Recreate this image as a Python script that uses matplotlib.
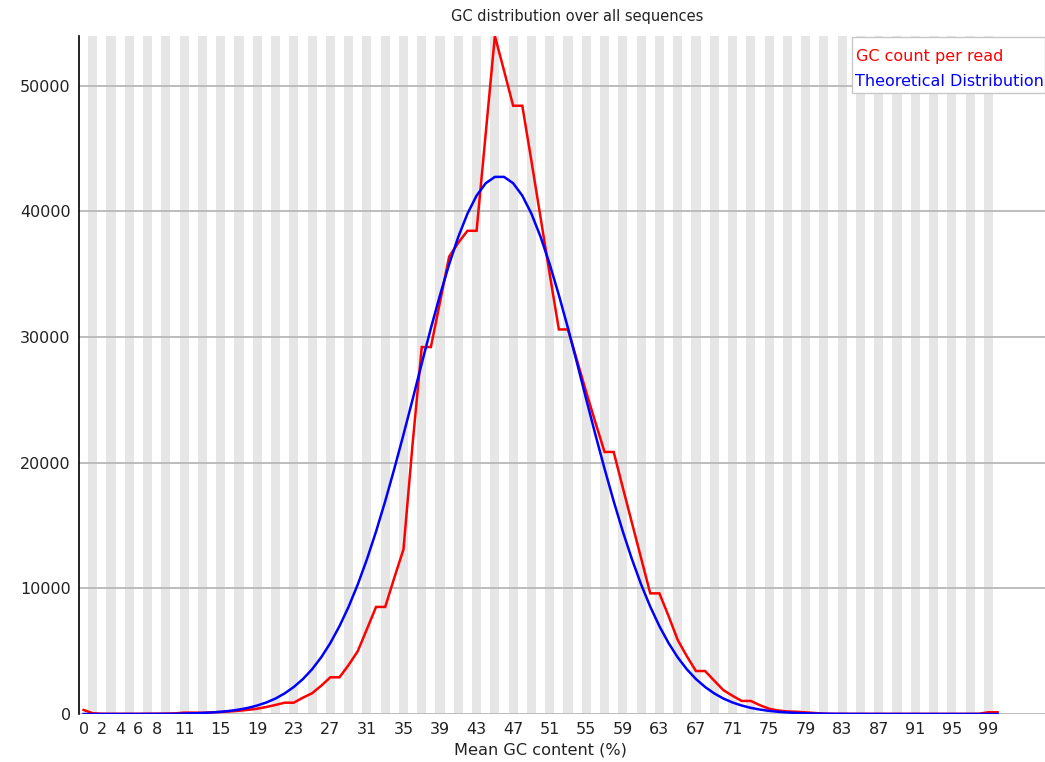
import matplotlib
matplotlib.use("Agg")
import matplotlib.pyplot as plt
from matplotlib.patches import Rectangle

gc_percent = list(range(101))

gc_count_per_read = [
    320, 60, 20, 15, 15, 15, 15, 20, 25, 30,
    50, 110, 110, 100, 130, 160, 200, 260, 330, 420,
    560, 720, 900, 900, 1300, 1650, 2250, 2920, 2920, 3900,
    5000, 6750, 8520, 8520, 10850, 13100, 21500, 29200, 29200, 32800,
    36400, 37500, 38450, 38450, 46200, 53950, 51200, 48400, 48400, 44000,
    39500, 35000, 30600, 30600, 28100, 25600, 23200, 20850, 20850, 18000,
    15200, 12400, 9600, 9600, 7800, 5900, 4600, 3420, 3420, 2650,
    1900, 1450, 1040, 1040, 700, 420, 280, 200, 180, 130,
    80, 20, 10, 10, 10, 10, 10, 10, 10, 10,
    10, 10, 10, 10, 10, 10, 10, 10, 20, 140,
    140,
]

theoretical = [
    0, 0, 0, 0, 0, 1, 2, 4, 6, 10,
    16, 37, 56, 83, 121, 175, 250, 352, 490, 675,
    917, 1230, 1640, 2150, 2780, 3560, 4510, 5650, 6990, 8540,
    10310, 12310, 14520, 16930, 19520, 22230, 25030, 27900, 30700, 33340,
    35790, 37970, 39810, 41250, 42234, 42740, 42740, 42234, 41250, 39810,
    37970, 35790, 33340, 30700, 27900, 25030, 22230, 19520, 16930, 14520,
    12310, 10310, 8540, 6990, 5650, 4510, 3560, 2780, 2150, 1640,
    1230, 917, 675, 490, 352, 250, 175, 121, 83, 56,
    37, 24, 16, 10, 6, 4, 2, 1, 0, 0,
    0, 0, 0, 0, 0, 0, 0, 0, 0, 0,
    0,
]

x_tick_labels = [0, 2, 4, 6, 8, 11, 15, 19, 23, 27, 31, 35, 39, 43, 47, 51,
                 55, 59, 63, 67, 71, 75, 79, 83, 87, 91, 95, 99]
y_ticks = [0, 10000, 20000, 30000, 40000, 50000]

plt.rcParams['font.family'] = ['DejaVu Sans']

W, H = 1045, 762
fig = plt.figure(figsize=(W / 100, H / 100), dpi=100)
left_px, right_px, top_px, bottom_px = 79, 1045, 36, 714
ax = fig.add_axes([left_px / W, 1 - bottom_px / H,
                   (right_px - left_px) / W, (bottom_px - top_px) / H])

bin_w = 9.14
xmin = -0.5
xmax = xmin + (right_px - left_px) / bin_w
ax.set_xlim(xmin, xmax)
ax.set_ylim(0, max(gc_count_per_read))

# alternating stripes
for i in gc_percent:
    if i % 2 == 1:
        ax.axvspan(i - 0.5, i + 0.5, color='#e6e6e6', lw=0, zorder=0)

# horizontal grid
for yv in y_ticks:
    ax.axhline(yv, color='#b8b8b8', lw=1.3, zorder=1)

ax.plot(gc_percent, gc_count_per_read, color='#ff0000', lw=1.8, zorder=3,
        solid_joinstyle='miter')
ax.plot(gc_percent, theoretical, color='#0000ff', lw=1.8, zorder=4)

for s in ['top', 'right', 'bottom']:
    ax.spines[s].set_visible(False)
ax.spines['left'].set_color('#000000')
ax.spines['left'].set_linewidth(1.2)

ax.set_yticks(y_ticks)
ax.set_yticklabels([str(v) for v in y_ticks], fontsize=11.5, color='#222222')
ax.set_xticks(x_tick_labels)
ax.set_xticklabels([str(v) for v in x_tick_labels], fontsize=11.5, color='#222222')
ax.tick_params(axis='both', length=0)
ax.tick_params(axis='y', pad=6)
ax.tick_params(axis='x', pad=6)

ax.text(50, -0.042, 'Mean GC content (%)', transform=ax.get_xaxis_transform(),
        ha='center', va='top', fontsize=11.6, color='#222222')

fig.text(577 / W, 1 - 17 / H, 'GC distribution over all sequences',
         ha='center', va='center', fontsize=10.5, color='#222222')

# legend box
fig.patches.append(Rectangle((852 / W, 1 - 93 / H), (W - 852) / W, 56 / H,
                             transform=fig.transFigure, facecolor='white',
                             edgecolor='#c8c8c8', lw=1, zorder=10))
fig.text(856 / W, 1 - 56 / H, 'GC count per read', ha='left', va='center',
         fontsize=11.5, color='#ff0000', zorder=11)
fig.text(855 / W, 1 - 82 / H, 'Theoretical Distribution', ha='left', va='center',
         fontsize=11.5, color='#0000ff', zorder=11)

fig.savefig('out.png', dpi=100)
